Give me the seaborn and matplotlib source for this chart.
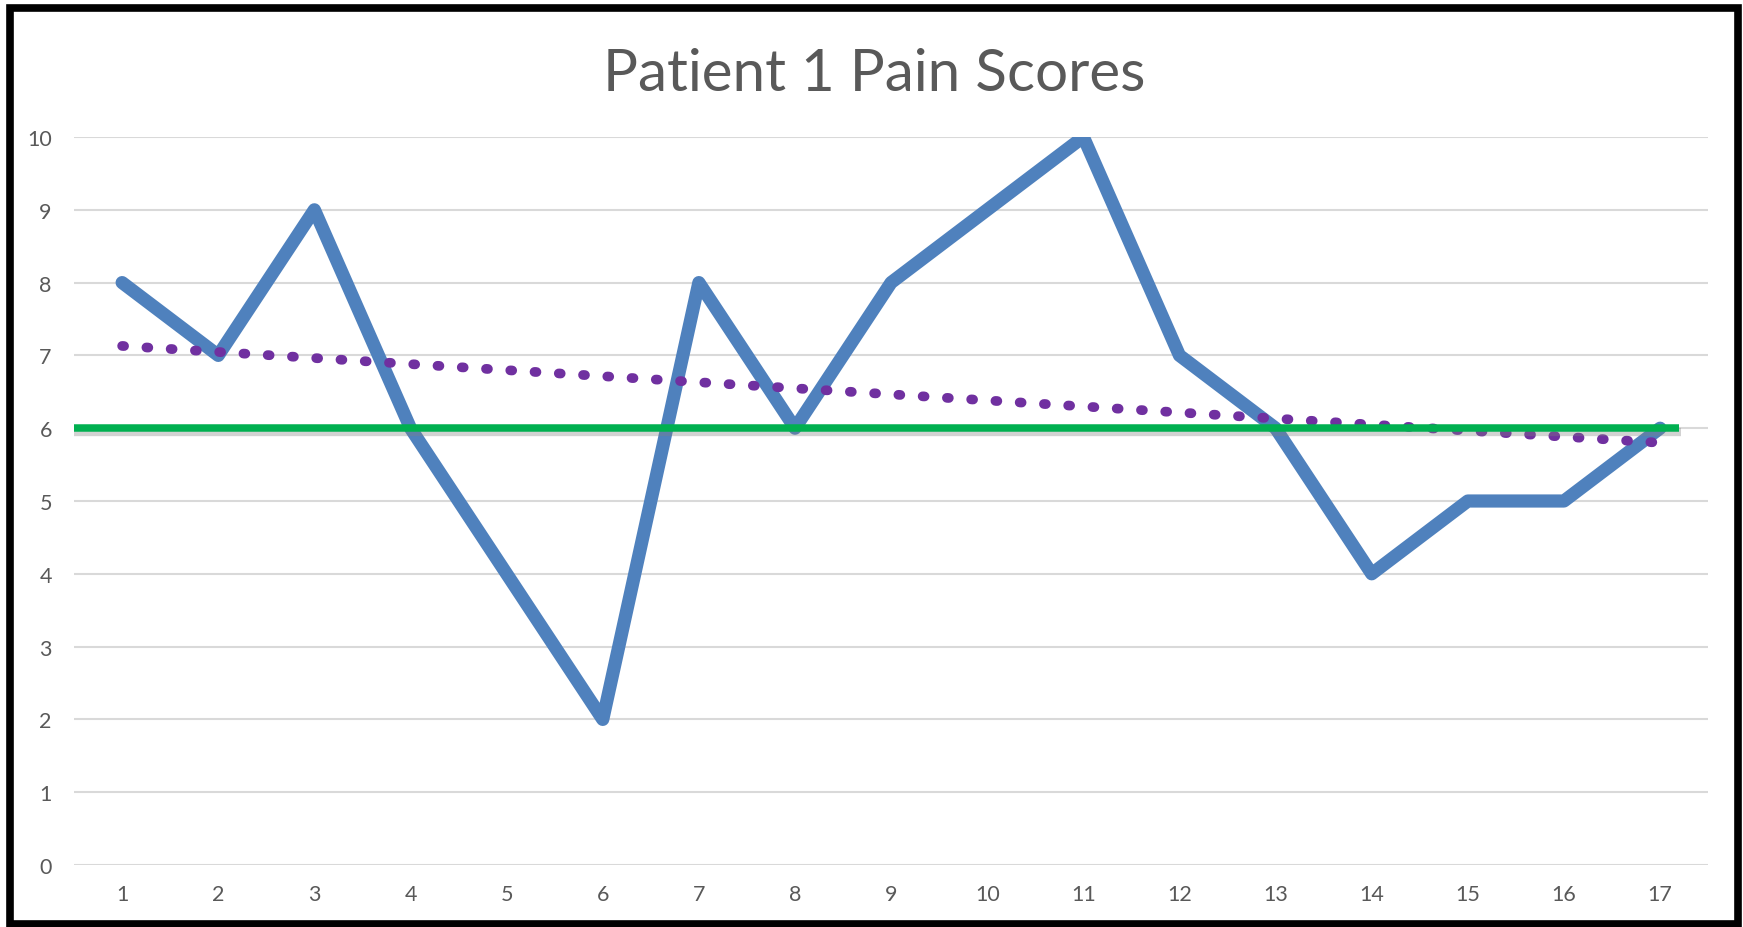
import pandas as pd
import seaborn as sns
import matplotlib.pyplot as plt
import matplotlib.patheffects as pe
from matplotlib.patches import Rectangle

# --- data ---
sessions = list(range(1, 18))
pain_scores = [8, 7, 9, 6, 4, 2, 8, 6, 8, 9, 10, 7, 6, 4, 5, 5, 6]
trend_x = [1, 17]
trend_y = [7.13, 5.80]          # linear trendline
target_x = [0.43, 17.2]
target_y = [6, 6]               # green target line
y_ticks = list(range(0, 11))

TITLE = 'Patient 1 Pain Scores'
GREY = '#595959'

sns.set_theme(style="whitegrid")
plt.rcParams['font.family'] = ['Lato', 'DejaVu Sans']

df = pd.DataFrame({'session': sessions, 'pain': pain_scores})
df_trend = pd.DataFrame({'session': trend_x, 'pain': trend_y})
df_target = pd.DataFrame({'session': target_x, 'pain': target_y})

fig = plt.figure(figsize=(17.43, 9.28), dpi=100)
ax = fig.add_axes([0.0425, 0.0668, 0.9375, 0.7845])

sns.lineplot(data=df, x='session', y='pain', ax=ax, color='#4F81BD',
             linewidth=9.5, solid_capstyle='round', solid_joinstyle='round', zorder=3)

# dotted trendline (round dots)
sns.lineplot(data=df_trend, x='session', y='pain', ax=ax, color='#7030A0',
             linewidth=7, zorder=4)
trend_line = ax.lines[-1]
trend_line.set_linestyle((0, (0.2, 2.3)))
trend_line.set_dash_capstyle('round')

# green target line with soft shadow
sns.lineplot(data=df_target, x='session', y='pain', ax=ax, color='#00B050',
             linewidth=5.4, zorder=5)
ax.lines[-1].set_solid_capstyle('butt')
ax.lines[-1].set_path_effects([
    pe.SimpleLineShadow(offset=(1, -3), shadow_color='#808080', alpha=0.35, linewidth=6),
    pe.Normal()])

ax.set_xlim(0.5, 17.5)
ax.set_ylim(0, 10)
ax.set_xticks(sessions)
ax.set_yticks(y_ticks)
ax.set_xlabel('')
ax.set_ylabel('')
ax.grid(axis='x', visible=False)
ax.grid(axis='y', color='#D9D9D9', linewidth=1.5)
for s in ax.spines.values():
    s.set_visible(False)
ax.tick_params(axis='both', length=0, labelsize=15.5, labelcolor=GREY)
ax.tick_params(axis='x', pad=14)
ax.tick_params(axis='y', pad=16)
ax.set_facecolor('white')

fig.text(0.5015, 0.92, TITLE, ha='center', va='center', fontsize=42,
         color=GREY)

# black frame around the whole chart
fig.patches.append(Rectangle((0.0057, 0.0035), 0.9915, 0.9865, transform=fig.transFigure,
                             fill=False, edgecolor='black', linewidth=5.5))

plt.savefig('out.png', dpi=100)
